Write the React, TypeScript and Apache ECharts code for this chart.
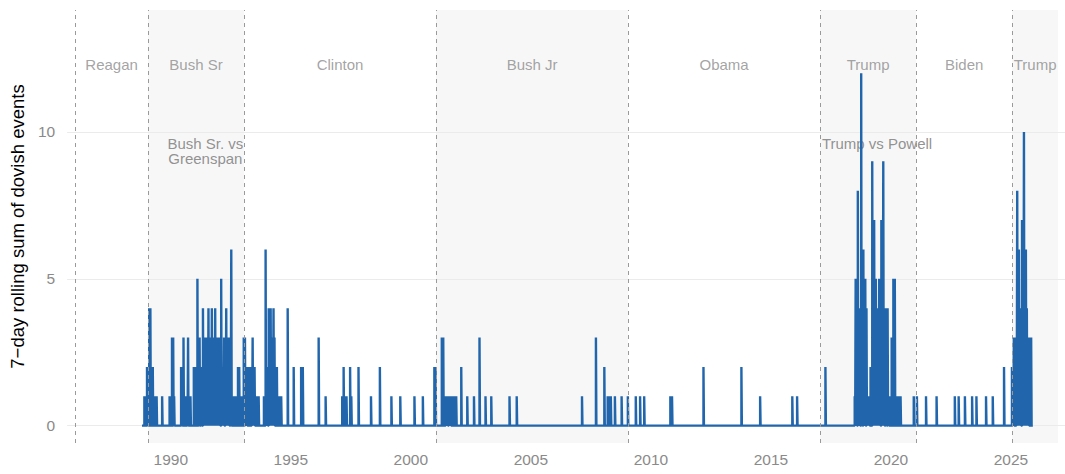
import React, { useEffect, useRef } from "react";
import * as echarts from "echarts";

// Axis ticks
const xTicks = [1990, 1995, 2000, 2005, 2010, 2015, 2020, 2025];
const yTicks = [0, 5, 10];
const yTitle = "7\u2212day rolling sum of dovish events";

// Presidential terms (decimal years)
const presidents = ["Reagan", "Bush Sr", "Clinton", "Bush Jr", "Obama", "Trump", "Biden", "Trump"];
const termStart = [1986.02, 1989.05, 1993.05, 2001.05, 2009.05, 2017.05, 2021.05, 2025.05];
const termEnd = [1989.05, 1993.05, 2001.05, 2009.05, 2017.05, 2021.05, 2025.05, 2026.96];
const termShaded = [false, true, false, true, false, true, false, true];

// Notable conflicts
const conflictLabels = ["Bush Sr. vs\nGreenspan", "Trump vs Powell"];
const conflictX = [1991.44, 2019.42];

// Series range
const seriesStart = 1988.8;
const seriesEnd = 2025.91;

// Dovish-event windows: [date, 7-day rolling count]
const bushSrEvents = [
  [1988.9, 1], [1988.95, 1], [1989.01, 2], [1989.05, 2], [1989.1, 4], [1989.15, 4], [1989.2, 2],
  [1989.25, 2], [1989.3, 1], [1989.35, 1], [1989.41, 1], [1989.64, 1], [1989.95, 1], [1990.0, 1],
  [1990.05, 3], [1990.1, 3], [1990.14, 1], [1990.43, 2], [1990.47, 1], [1990.53, 3], [1990.58, 1],
  [1990.63, 1], [1990.68, 1], [1990.72, 3], [1990.77, 1], [1990.82, 1], [1990.96, 2], [1991.01, 2],
  [1991.06, 2], [1991.11, 5], [1991.16, 3], [1991.2, 3], [1991.25, 1], [1991.29, 2], [1991.34, 4],
  [1991.38, 3], [1991.42, 1], [1991.46, 3], [1991.5, 3], [1991.53, 2], [1991.57, 4], [1991.61, 3],
  [1991.65, 3], [1991.68, 2], [1991.71, 4], [1991.75, 3], [1991.79, 2], [1991.82, 3], [1991.85, 4],
  [1991.89, 3], [1991.93, 3], [1991.97, 2], [1992.01, 3], [1992.05, 3], [1992.1, 5], [1992.14, 2],
  [1992.18, 2], [1992.22, 3], [1992.27, 3], [1992.31, 4], [1992.35, 3], [1992.39, 3], [1992.43, 3],
  [1992.48, 1], [1992.52, 6], [1992.57, 1], [1992.62, 1], [1992.67, 1], [1992.72, 1], [1992.8, 2],
  [1992.85, 2], [1992.9, 1], [1992.96, 1],
];
const clintonEvents = [
  [1993.04, 3], [1993.09, 3], [1993.13, 2], [1993.17, 1], [1993.22, 2], [1993.27, 1], [1993.32, 2],
  [1993.37, 2], [1993.41, 3], [1993.45, 2], [1993.49, 2], [1993.54, 1], [1993.6, 1], [1993.66, 1],
  [1993.88, 1], [1993.95, 6], [1993.99, 2], [1994.03, 1], [1994.08, 4], [1994.12, 3], [1994.16, 4],
  [1994.2, 3], [1994.24, 3], [1994.28, 4], [1994.32, 3], [1994.37, 2], [1994.42, 2], [1994.48, 1],
  [1994.54, 1], [1994.6, 1], [1994.87, 4], [1995.12, 2], [1995.43, 2], [1995.5, 2], [1996.16, 3],
  [1996.45, 1], [1997.14, 1], [1997.2, 2], [1997.26, 1], [1997.32, 1], [1997.47, 2], [1997.52, 1],
  [1997.82, 2], [1998.34, 1], [1998.71, 2], [1999.19, 1], [1999.56, 1], [2000.15, 1], [2000.5, 1],
];
const bushJrEvents = [
  [2000.98, 2], [2001.03, 2], [2001.29, 3], [2001.35, 3], [2001.4, 1], [2001.45, 1], [2001.49, 1],
  [2001.53, 1], [2001.58, 1], [2001.62, 1], [2001.66, 1], [2001.72, 1], [2001.81, 1], [2001.89, 1],
  [2002.1, 2], [2002.35, 1], [2002.63, 1], [2002.86, 3], [2003.11, 1], [2003.35, 1], [2004.11, 1],
  [2004.41, 1], [2007.13, 1], [2007.71, 3], [2008.06, 2], [2008.2, 1], [2008.27, 1], [2008.33, 1],
  [2008.5, 1], [2008.78, 1], [2009.04, 1],
];
const obamaEvents = [
  [2009.37, 1], [2009.55, 1], [2009.72, 1], [2010.81, 1], [2010.88, 1], [2012.19, 2], [2013.77, 2],
  [2014.55, 1], [2015.89, 1], [2016.09, 1],
];
const trump1Events = [
  [2017.27, 2], [2018.49, 1], [2018.53, 5], [2018.57, 3], [2018.62, 8], [2018.66, 4], [2018.7, 3],
  [2018.76, 12], [2018.8, 4], [2018.85, 6], [2018.89, 3], [2018.93, 5], [2018.98, 4], [2019.02, 1],
  [2019.06, 1], [2019.1, 1], [2019.15, 2], [2019.22, 9], [2019.26, 5], [2019.3, 7], [2019.34, 2],
  [2019.37, 5], [2019.41, 3], [2019.44, 4], [2019.48, 2], [2019.51, 5], [2019.55, 3], [2019.6, 7],
  [2019.64, 3], [2019.68, 9], [2019.72, 3], [2019.77, 4], [2019.81, 2], [2019.86, 4], [2019.9, 1],
  [2019.95, 1], [2020.03, 3], [2020.1, 5], [2020.16, 5], [2020.21, 1], [2020.3, 1], [2020.4, 1],
];
const bidenEvents = [
  [2020.95, 1], [2021.08, 1], [2021.46, 1], [2021.9, 1], [2022.66, 1], [2022.82, 1], [2023.08, 1],
  [2023.38, 1], [2023.56, 1], [2023.96, 1], [2024.24, 1], [2024.71, 2],
];
const trump2Events = [
  [2025.04, 2], [2025.08, 1], [2025.12, 3], [2025.17, 1], [2025.22, 3], [2025.26, 8], [2025.3, 3],
  [2025.33, 6], [2025.37, 4], [2025.41, 4], [2025.46, 7], [2025.5, 4], [2025.54, 10], [2025.58, 6],
  [2025.62, 6], [2025.66, 4], [2025.7, 3], [2025.74, 1], [2025.79, 3], [2025.84, 3],
];

const X_MIN = 1985.683;
const X_MAX = 2027.25;
const Y_MIN = -0.59;
const Y_MAX = 14.15;
const NAME_Y = 12.28;
const NOTE_Y = 9.85;
const WINDOW = 7 / 365.25;

const FONT = "'Liberation Sans', Arial, Helvetica, sans-serif";

function buildLine(): number[][] {
  const events = [
    ...bushSrEvents, ...clintonEvents, ...bushJrEvents, ...obamaEvents,
    ...trump1Events, ...bidenEvents, ...trump2Events,
  ].sort((a, b) => a[0] - b[0]);
  const pts: number[][] = [[seriesStart, 0]];
  for (const [t, v] of events) {
    pts.push([t, 0], [t, v], [t + WINDOW, v], [t + WINDOW, 0]);
  }
  pts.push([seriesEnd, 0]);
  return pts;
}

export default function App() {
  const ref = useRef<HTMLDivElement>(null);

  useEffect(() => {
    if (!ref.current) return;
    const chart = echarts.init(ref.current, null, { renderer: "svg" });

    const shadeAreas = termStart
      .map((s, i) => ({ s, e: termEnd[i], on: termShaded[i] }))
      .filter((d) => d.on)
      .map((d) => [{ xAxis: d.s }, { xAxis: d.e }]);

    const option: any = {
      animation: false,
      backgroundColor: "#ffffff",
      textStyle: { fontFamily: FONT },
      grid: { left: 65, right: 0, top: 10, bottom: 31 },
      xAxis: {
        type: "value",
        min: X_MIN,
        max: X_MAX,
        axisLine: { show: false },
        axisTick: { show: false, customValues: xTicks },
        splitLine: { show: false },
        axisLabel: {
          customValues: xTicks,
          formatter: (v: number) => String(v),
          color: "#8a8a8a",
          fontSize: 15.5,
          fontFamily: FONT,
          margin: 8,
        },
      },
      yAxis: {
        type: "value",
        min: Y_MIN,
        max: Y_MAX,
        name: yTitle,
        nameLocation: "middle",
        nameRotate: 90,
        nameGap: 37,
        nameTextStyle: { color: "#000000", fontSize: 18.5, fontFamily: FONT },
        axisLine: { show: false },
        axisTick: { show: false, customValues: yTicks },
        splitLine: { show: false },
        axisLabel: {
          customValues: yTicks,
          formatter: (v: number) => String(v),
          color: "#8a8a8a",
          fontSize: 15.5,
          fontFamily: FONT,
          margin: 12,
        },
      },
      series: [
        {
          name: "terms",
          type: "scatter",
          data: [],
          z: 1,
          silent: true,
          markArea: {
            silent: true,
            z: 1,
            itemStyle: { color: "#f7f7f7" },
            label: { show: false },
            data: shadeAreas,
          },
        },
        {
          name: "grid",
          type: "scatter",
          data: [],
          z: 1,
          silent: true,
          markLine: {
            silent: true,
            z: 1,
            symbol: "none",
            label: { show: false },
            lineStyle: { color: "#ebebeb", width: 1, type: "solid" },
            data: yTicks.map((v) => ({ yAxis: v })),
          },
        },
        {
          name: "presidents",
          type: "scatter",
          z: 2,
          silent: true,
          symbolSize: 0,
          itemStyle: { color: "rgba(0,0,0,0)" },
          data: presidents.map((n, i) => ({
            name: n,
            value: [(termStart[i] + termEnd[i]) / 2, NAME_Y],
          })),
          label: {
            show: true,
            position: "inside",
            formatter: "{b}",
            color: "#8c8c8c",
            fontSize: 15,
            fontFamily: FONT,
          },
        },
        {
          name: "conflicts",
          type: "scatter",
          z: 2,
          silent: true,
          symbolSize: 0,
          itemStyle: { color: "rgba(0,0,0,0)" },
          data: conflictLabels.map((n, i) => ({ name: n, value: [conflictX[i], NOTE_Y] })),
          label: {
            show: true,
            position: "bottom",
            distance: 0,
            formatter: "{b}",
            align: "center",
            color: "#767676",
            fontSize: 15,
            lineHeight: 15,
            fontFamily: FONT,
          },
        },
        {
          name: "dovish",
          type: "line",
          z: 3,
          showSymbol: false,
          symbol: "none",
          data: buildLine(),
          lineStyle: { color: "#2166ac", width: 2.4 },
          itemStyle: { color: "#2166ac" },
        },
        {
          name: "termLines",
          type: "scatter",
          data: [],
          z: 4,
          silent: true,
          markLine: {
            silent: true,
            z: 5,
            symbol: "none",
            label: { show: false },
            lineStyle: { color: "#9a9a9a", width: 1, type: [4, 4] },
            data: termStart.map((v) => ({ xAxis: v })),
          },
        },
      ],
    };

    chart.setOption(option);
    return () => chart.dispose();
  }, []);

  return (
    <div
      ref={ref}
      style={{ position: "fixed", left: 0, top: 0, width: 1065, height: 474, background: "#fff" }}
    />
  );
}
